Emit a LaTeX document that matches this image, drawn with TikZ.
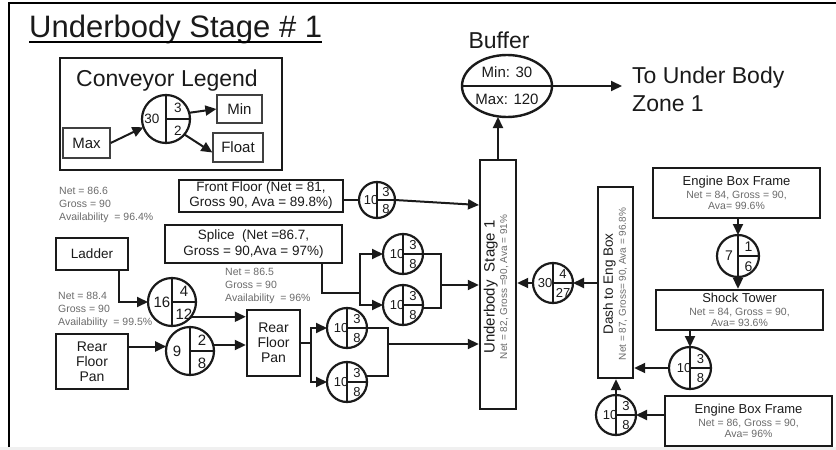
\documentclass[tikz,border=0pt]{standalone}
\usepackage{fontspec}
\setmainfont{Liberation Sans}
\usetikzlibrary{arrows.meta,shapes.geometric}
\definecolor{txtgray}{HTML}{6A6A6A}
\definecolor{ink}{HTML}{1A1A1A}
\newcommand\fsz[2]{\fontsize{#1}{#2}\selectfont}
% name, cx, cy, r, left, top-right, bottom-right, font size, left offset
\newcommand\ConvC[9]{%
  \node[ring, minimum size=#4*2pt] (#1) at (#2,#3) {};
  \draw[draw=ink, line width=1.8pt] (#1.north) -- (#1.south);
  \draw[draw=ink, line width=1.8pt] (#1.center) -- (#1.east);
  \node[inner sep=0pt, text=ink, font=\fsz{#8}{#8}] (#1-l) at (#2+#9,#3) {#5};
  \node[inner sep=0pt, text=ink, font=\fsz{#8}{#8}] (#1-t) at (#2+0.5*#4,#3-0.45*#4) {#6};
  \node[inner sep=0pt, text=ink, font=\fsz{#8}{#8}] (#1-b) at (#2+0.5*#4,#3+0.5*#4) {#7};
}
\begin{document}
\begin{tikzpicture}[x=1pt,y=-1pt,
  bx/.style={draw=ink, line width=2.4pt, inner sep=0pt, align=center, text=ink},
  thinbx/.style={draw=black!75, line width=1.3pt, inner sep=0pt, align=center, text=ink},
  ring/.style={circle, draw=ink, line width=2.2pt, inner sep=0pt, outer sep=0pt},
  ln/.style={draw=ink, line width=2pt},
  arr/.style={ln, -{Triangle[length=11pt,width=10pt]}},
  stat/.style={anchor=north west, align=left, inner sep=0pt, text=txtgray, font=\fsz{10.5}{12.8}},
]
\useasboundingbox (0,0) rectangle (836,450);
\fill[gray!12] (0,447) rectangle (836,450);
\draw[line width=2.5pt] (9,447) -- (9,3) -- (836,3);

% title
\node[anchor=base west, inner sep=0pt, font=\fsz{31}{31}, text=ink] (title) at (29,37) {Underbody Stage \# 1};
\draw[line width=1.6pt] ([yshift=-5pt]title.base west) -- ([yshift=-5pt]title.base east);

% legend
\node[bx, minimum width=222pt, minimum height=112pt] (legend) at (171,114) {};
\node[font=\fsz{23}{23}, inner sep=0pt, text=ink] (legendt) at (167,81) {Conveyor Legend};
\ConvC{lc}{166}{119}{24}{30}{3}{2}{13.5}{-14}
\node[thinbx, minimum width=45pt, minimum height=28pt, font=\fsz{15}{15}] (min) at (239.5,109) {Min};
\node[thinbx, minimum width=50pt, minimum height=29pt, font=\fsz{15}{15}] (float) at (238,147.5) {Float};
\node[thinbx, minimum width=47pt, minimum height=30pt, font=\fsz{15}{15}] (max) at (86.5,143) {Max};

% stats
\node[stat] (s1) at (59,187) {Net = 86.6\\Gross = 90\\Availability~ = 96.4\%};
\node[stat] (s2) at (58,292) {Net = 88.4\\Gross = 90\\Availability~ = 99.5\%};
\node[stat] (s3) at (225,268) {Net = 86.5\\Gross = 90\\Availability~ = 96\%};

% left boxes
\node[bx, minimum width=164pt, minimum height=32pt, font=\fsz{13.5}{15}] (ff) at (261,196) {Front Floor (Net = 81,\\Gross 90, Ava = 89.8\%)};
\ConvC{ffc}{377}{200}{18}{10}{3}{8}{13}{-6}
\node[bx, minimum width=177pt, minimum height=38pt, font=\fsz{13.5}{16}] (splice) at (253.5,244) {Splice~ (Net =86.7,\\Gross = 90,Ava = 97\%)};
\node[bx, minimum width=72pt, minimum height=32pt, font=\fsz{13.5}{15}] (ladder) at (92,254) {Ladder};
\ConvC{c16}{172}{302}{24}{16}{4}{12}{15}{-10}
\node[bx, minimum width=72pt, minimum height=55pt, font=\fsz{14}{15}] (rfp1) at (92,361.5) {Rear\\Floor\\Pan};
\ConvC{c9}{190}{351}{24}{9}{2}{8}{15}{-13}
\node[bx, minimum width=53pt, minimum height=66pt, font=\fsz{14}{15}] (rfp2) at (273.5,343) {Rear\\Floor\\Pan};
\ConvC{cA}{347}{328}{20}{10}{3}{8}{13}{-6}
\ConvC{cB}{347}{382}{20}{10}{3}{8}{13}{-6}
\ConvC{cC}{403}{254}{20}{10}{3}{8}{13}{-6}
\ConvC{cD}{403}{305}{20}{10}{3}{8}{13}{-6}

% underbody stage
\node[bx, minimum width=36pt, minimum height=249pt] (ub) at (498,284.5) {};
\node[rotate=90, align=center, inner sep=0pt, text=ink, font=\fsz{10}{12.5}] (ubt) at (496,287) {{\fsz{15}{16}Underbody~ Stage 1}\\{\color{txtgray}\fsz{10}{11}Net = 82, Gross =90, Ava = 91\%}};

% buffer
\node[font=\fsz{23}{23}, inner sep=0pt, text=ink] (buft) at (499,40) {Buffer};
\node[ellipse, draw=ink, line width=2.4pt, minimum width=90pt, minimum height=62pt, inner sep=0pt, outer sep=0pt] (buf) at (507,86) {};
\node[font=\fsz{15}{15}, inner sep=0pt, text=ink] (bmin) at (507,72) {Min: 30};
\node[font=\fsz{15}{15}, inner sep=0pt, text=ink] (bmax) at (507,99) {Max: 120};
\coordinate (tgt) at (622,86);
\node[anchor=base west, font=\fsz{23}{23}, inner sep=0pt, text=ink] (to1) at (632,83) {To Under Body};
\node[anchor=base west, font=\fsz{23}{23}, inner sep=0pt, text=ink] (to2) at (632,111) {Zone 1};

% right side
\node[bx, minimum width=35pt, minimum height=191pt] (dash) at (615.5,282.5) {};
\node[rotate=90, align=center, inner sep=0pt, text=ink, font=\fsz{10}{13}] (dasht) at (615,284) {{\fsz{13.5}{14}Dash to Eng Box}\\{\color{txtgray}\fsz{10}{11}Net = 87, Gross= 90, Ava = 96.8\%}};
\ConvC{c30}{553}{283}{20}{30}{4}{27}{13}{-8}
\node[bx, minimum width=167pt, minimum height=50pt, font=\fsz{10.5}{11.5}] (ebf1) at (736.5,193) {{\fsz{13}{14}Engine Box Frame}\\[1.5pt]{\color{txtgray}Net = 84, Gross = 90,}\\{\color{txtgray}Ava= 99.6\%}};
\ConvC{c7}{738}{256}{21}{7}{1}{6}{14}{-9}
\node[bx, minimum width=167pt, minimum height=40pt, font=\fsz{10.5}{11.5}] (st) at (739.5,310) {{\fsz{13}{14}Shock Tower}\\[1pt]{\color{txtgray}Net = 84, Gross = 90,}\\{\color{txtgray}Ava= 93.6\%}};
\ConvC{c10r}{690}{368}{21}{10}{3}{8}{13}{-6}
\node[bx, minimum width=167pt, minimum height=50pt, font=\fsz{10.5}{11.5}] (ebf2) at (748.5,421) {{\fsz{13}{14}Engine Box Frame}\\[1.5pt]{\color{txtgray}Net = 86, Gross = 90,}\\{\color{txtgray}Ava= 96\%}};
\ConvC{c10b}{616}{415}{20}{10}{3}{8}{13}{-6}

% legend connectors
\draw[arr] (max.east) -- (lc.200);
\draw[arr] (lc.15) -- (min.west);
\draw[arr] (lc.-40) -- ([yshift=-5pt]float.west);

% left connectors
\coordinate (ffin) at (479,205);
\draw[ln] (ff.east |- ffc.west) -- (ffc.west);
\draw[arr] (ffc.east) -- (ffin);
\draw[arr] ([xshift=27pt]ladder.south) |- (c16.west);
\draw[arr] ([yshift=15pt]rfp1.east) -- ++(37,0);
\coordinate (r2) at (214,345);
\draw[arr] (r2) -- (rfp2.west |- r2);
\draw[arr] (c16.-38) -- (rfp2.west |- c16.-38);
\coordinate (f1) at (311,343);
\draw[ln] (rfp2.east |- f1) -- (f1);
\draw[arr] (f1) |- (cA.west);
\draw[arr] (f1) |- (cB.west);
\coordinate (m1) at (388,344);
\draw[ln] (cA.east) -| (m1) |- (cB.17);
\draw[arr] (m1) -- (ub.west |- m1);
\coordinate (f2) at (360,293);
\draw[ln] ([xshift=68.5pt]splice.south) |- (f2);
\draw[arr] (f2) |- (cC.west);
\draw[arr] (f2) |- (cD.west);
\coordinate (m2) at (441,285);
\draw[ln] (cC.east) -| (m2) |- (cD.-9);
\draw[arr] (m2) -- (ub.west |- m2);

% centre / right connectors
\draw[ln] (buf.west) -- (buf.east);
\draw[arr] (ub.north) -- (ub.north |- buf.south);
\draw[arr] (buf.east) -- (tgt);
\draw[arr] (dash.west |- c30.east) -- (c30.east);
\draw[arr] (c30.west) -- (ub.east |- c30.west);
\draw[arr] (ebf1.south -| c7.north) -- (c7.north);
\draw[arr] (c7.south) -- (st.north -| c7.south);
\draw[arr] (st.south -| c10r.north) -- (c10r.north);
\draw[arr] (c10r.west) -- (dash.east |- c10r.west);
\draw[arr] (ebf2.west |- c10b.east) -- (c10b.east);
\draw[arr] (c10b.north) -- (dash.south -| c10b.north);
\end{tikzpicture}
\end{document}
